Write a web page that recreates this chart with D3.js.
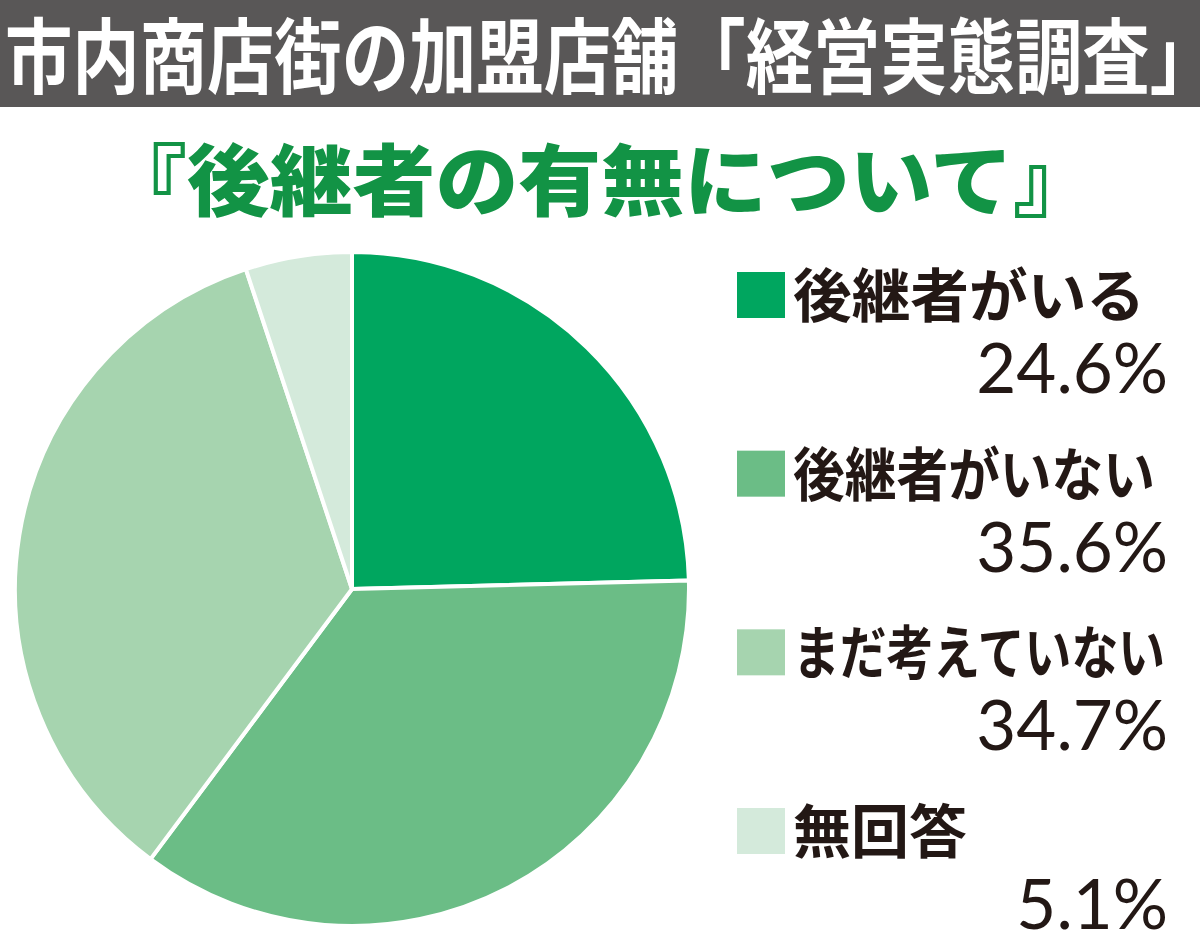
<!DOCTYPE html>
<html><head><meta charset="utf-8">
<script src="https://cdn.jsdelivr.net/npm/d3@7"></script>
<style>html,body{margin:0;padding:0;background:#fff;}svg{display:block;}</style>
</head><body>
<svg id="chart" width="1200" height="952"></svg>
<script>
const title = "市内商店街の加盟店舗「経営実態調査」";
const subtitle = "『後継者の有無について』";
const categories = ["後継者がいる", "後継者がいない", "まだ考えていない", "無回答"];
const values = [24.6, 35.6, 34.7, 5.1];
const valueLabels = ["24.6%", "35.6%", "34.7%", "5.1%"];
const colors = ["#00a65f", "#6bbd86", "#a6d4af", "#d4eadb"];
const labelWidths = [352, 362, 372, null];

const svg = d3.select("#chart");
const JP = "'Noto Sans CJK JP', sans-serif";

// header bar
svg.append("rect").attr("x", 0).attr("y", 0).attr("width", 1200).attr("height", 107).attr("fill", "#595757");
svg.append("text").attr("x", 5).attr("y", 87)
  .attr("font-family", JP).attr("font-weight", 700).attr("font-size", 82)
  .attr("fill", "#fff").attr("textLength", 1212).attr("lengthAdjust", "spacingAndGlyphs")
  .text(title);

// subtitle
svg.append("text").attr("x", 600).attr("y", 210).attr("text-anchor", "middle")
  .attr("font-family", JP).attr("font-weight", 900).attr("font-size", 78)
  .attr("fill", "#129345").attr("textLength", 992).attr("lengthAdjust", "spacingAndGlyphs")
  .text(subtitle);

// pie
const cx = 352, cy = 589, r = 337;
const pie = d3.pie().sort(null).value(d => d)(values);
const arc = d3.arc().innerRadius(0).outerRadius(r);
const g = svg.append("g").attr("transform", `translate(${cx},${cy})`);
g.selectAll("path").data(pie).join("path")
  .attr("d", arc).attr("fill", (d, i) => colors[i])
  .attr("stroke", "#fff").attr("stroke-width", 4).attr("stroke-linejoin", "round");

// legend
const y = d3.scaleLinear().domain([0, 3]).range([295, 831]);
const leg = svg.append("g");
categories.forEach((c, i) => {
  const yc = y(i);
  leg.append("rect").attr("x", 737).attr("y", yc - 23).attr("width", 48).attr("height", 46).attr("fill", colors[i]);
  const t = leg.append("text").attr("x", 793).attr("y", yc + 22)
    .attr("font-family", JP).attr("font-weight", 700).attr("font-size", 58)
    .attr("fill", "#231815").text(c);
  if (labelWidths[i]) t.attr("textLength", labelWidths[i]).attr("lengthAdjust", "spacingAndGlyphs");
  leg.append("text").attr("x", 1168).attr("y", yc + 98).attr("text-anchor", "end")
    .attr("font-family", "Lato, 'Open Sans', sans-serif").attr("font-weight", 400).attr("font-size", 69)
    .attr("fill", "#231815").text(valueLabels[i]);
});
</script>
</body></html>
